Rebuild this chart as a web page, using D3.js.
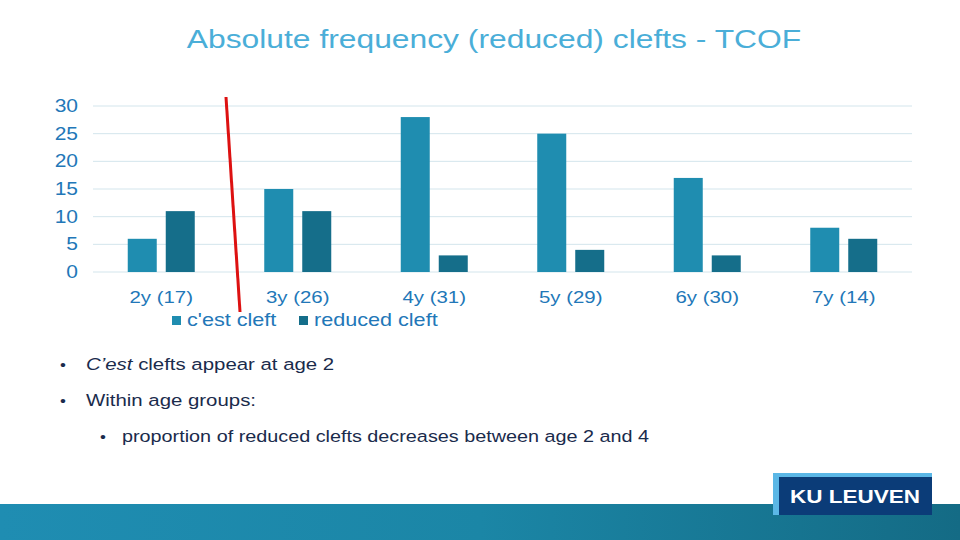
<!DOCTYPE html>
<html>
<head>
<meta charset="utf-8">
<script src="https://cdn.jsdelivr.net/npm/d3@7"></script>
<style>
  body { margin: 0; background: #fff; }
  svg { display: block; font-family: 'Liberation Sans', Arial, sans-serif; }
</style>
</head>
<body>
<div id="chart"></div>
<script>
// data ////////////////////////////////////////////////////////////
const categories = ['2y (17)', '3y (26)', '4y (31)', '5y (29)', '6y (30)', '7y (14)'];
const series     = ['c\'est cleft', 'reduced cleft'];
const cestCleft    = [6, 15, 28, 25, 17, 8];
const reducedCleft = [11, 11, 3, 4, 3, 6];
const yTicks = [0, 5, 10, 15, 20, 25, 30];

const width = 960, height = 540;
const colors = ['#1f8db0', '#156e8a'];
const sx = 1.2;   // the slide is stretched horizontally, text too

const svg = d3.select('#chart').append('svg')
  .attr('width', width)
  .attr('height', height)
  .attr('viewBox', [0, 0, width, height]);

const margin = { left: 93, right: 48 };

// stretched text helper
function stext(sel, x, y) {
  return sel.append('text').attr('transform', `translate(${x},${y}) scale(${sx},1)`);
}

// bottom band + logo /////////////////////////////////////////////
const defs = svg.append('defs');
const grad = defs.append('linearGradient').attr('id', 'band');
grad.append('stop').attr('offset', '0%').attr('stop-color', '#1f8db2');
grad.append('stop').attr('offset', '50%').attr('stop-color', '#1b86a6');
grad.append('stop').attr('offset', '100%').attr('stop-color', '#146b85');
svg.append('rect').attr('x', 0).attr('y', 504).attr('width', width).attr('height', 36).attr('fill', 'url(#band)');

const logo = svg.append('g');
logo.append('rect').attr('x', 773).attr('y', 473).attr('width', 159).attr('height', 42).attr('fill', '#5bb7e6');
logo.append('rect').attr('x', 779).attr('y', 477).attr('width', 153).attr('height', 38).attr('fill', '#0b3c78');
logo.append('text').attr('x', 855).attr('y', 503).attr('text-anchor', 'middle')
  .attr('fill', '#fff').attr('font-weight', 'bold').attr('font-size', 18)
  .attr('textLength', 130).attr('lengthAdjust', 'spacingAndGlyphs')
  .text('KU LEUVEN');

// title ///////////////////////////////////////////////////////////
stext(svg, 494, 48)
  .attr('text-anchor', 'middle')
  .attr('font-size', 26.5)
  .attr('fill', '#4aaed8')
  .text('Absolute frequency (reduced) clefts - TCOF');

// scales //////////////////////////////////////////////////////////
const x0 = d3.scaleBand().domain(categories).range([margin.left, width - margin.right]);
const y = d3.scaleLinear().domain([0, 30]).range([272, 106]);

// gridlines
svg.append('g')
  .selectAll('line')
  .data(yTicks)
  .join('line')
  .attr('x1', margin.left).attr('x2', width - margin.right)
  .attr('y1', d => y(d)).attr('y2', d => y(d))
  .attr('stroke', '#d3e5ec').attr('stroke-width', 1);

// y labels
svg.append('g')
  .selectAll('text')
  .data(yTicks)
  .join('text')
  .attr('transform', d => `translate(78,${y(d) + 6}) scale(${sx},1)`)
  .attr('text-anchor', 'end')
  .attr('font-size', 17.5)
  .attr('fill', '#2277b8')
  .text(d => d);

// bars
const barW = 29, gap = 9;
const rows = categories.map((c, i) => ({ c, vals: [cestCleft[i], reducedCleft[i]] }));
const groups = svg.append('g').selectAll('g').data(rows).join('g');
groups.selectAll('rect')
  .data(d => d.vals.map((v, j) => ({ c: d.c, v, j })))
  .join('rect')
  .attr('x', d => x0(d.c) + x0.bandwidth() / 2 + (d.j === 0 ? -(barW + gap / 2) : gap / 2))
  .attr('y', d => y(d.v))
  .attr('width', barW)
  .attr('height', d => y(0) - y(d.v))
  .attr('fill', d => colors[d.j]);

// x labels
svg.append('g')
  .selectAll('text')
  .data(categories)
  .join('text')
  .attr('transform', d => `translate(${x0(d) + x0.bandwidth() / 2},303) scale(${sx},1)`)
  .attr('text-anchor', 'middle')
  .attr('font-size', 17)
  .attr('fill', '#2277b8')
  .text(d => d);

// legend
const legendX = [172, 299];
const legend = svg.append('g').selectAll('g').data(series).join('g')
  .attr('transform', (d, i) => `translate(${legendX[i]},316)`);
legend.append('rect').attr('width', 9).attr('height', 9).attr('fill', (d, i) => colors[i]);
legend.append('text').attr('transform', `translate(15,10) scale(${sx},1)`)
  .attr('font-size', 18).attr('fill', '#2277b8').text(d => d);

// red annotation line
svg.append('line')
  .attr('x1', 226).attr('y1', 97).attr('x2', 240).attr('y2', 312)
  .attr('stroke', '#dd1111').attr('stroke-width', 3);

// bullets /////////////////////////////////////////////////////////
const textCol = '#1a2b4c';
const b = svg.append('g').attr('font-size', 17).attr('fill', textCol);
stext(b, 60, 370).attr('font-size', 14).text('•');
const t1 = stext(b, 86, 370);
t1.append('tspan').attr('font-style', 'italic').text('C’est');
t1.append('tspan').text(' clefts appear at age 2');
stext(b, 60, 406).attr('font-size', 14).text('•');
stext(b, 86, 406).text('Within age groups:');
stext(b, 100, 442).attr('font-size', 14).text('•');
stext(b, 122, 442).attr('font-size', 16.5).text('proportion of reduced clefts decreases between age 2 and 4');
</script>
</body>
</html>
